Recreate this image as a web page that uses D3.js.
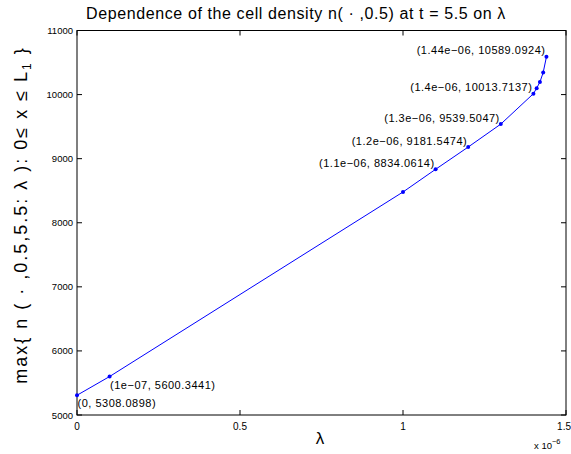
<!DOCTYPE html>
<html>
<head>
<meta charset="utf-8">
<script src="https://cdn.jsdelivr.net/npm/d3@7/dist/d3.min.js"></script>
<style>
  html, body { margin: 0; padding: 0; background: #fff; }
  svg text { font-family: "Liberation Sans", Arial, Helvetica, sans-serif; fill: #000; }
</style>
</head>
<body>
<svg id="chart" width="571" height="454"></svg>
<script>
// lambda values and the corresponding maximum cell density
const lambdaValues = [0, 1e-7, 1e-6, 1.1e-6, 1.2e-6, 1.3e-6, 1.4e-6, 1.41e-6, 1.42e-6, 1.43e-6, 1.44e-6];
const maxDensity = [5308.0898, 5600.3441, 8480, 8834.0614, 9181.5474, 9539.5047, 10013.7137, 10100, 10195, 10345, 10589.0924];
// indices of the points that carry a data tip
const tipIndices = [0, 1, 3, 4, 5, 6, 10];
// axis ticks
const xTicks = [0, 0.5e-6, 1e-6, 1.5e-6];
const xTickLabels = ["0", "0.5", "1", "1.5"];
const yTicks = [5000, 6000, 7000, 8000, 9000, 10000, 11000];

const svg = d3.select("#chart");
const plotLeft = 77, plotRight = 566, plotTop = 30.5, plotBottom = 415;

const x = d3.scaleLinear().domain([0, 1.5e-6]).range([plotLeft, plotRight]);
const y = d3.scaleLinear().domain([5000, 11000]).range([plotBottom, plotTop]);

const data = lambdaValues.map((l, i) => ({ l, v: maxDensity[i], i }));

// %g-style number formatting
function fmtG(v) {
  if (v === 0) return "0";
  const s = v.toExponential();
  const [m, e] = s.split("e");
  const sign = e[0] === "-" ? "\u2212" : "+";
  let digits = e.replace(/[+-]/, "");
  if (digits.length < 2) digits = "0" + digits;
  return m + "e" + sign + digits;
}

// axes box
svg.append("rect")
  .attr("x", plotLeft).attr("y", plotTop)
  .attr("width", plotRight - plotLeft).attr("height", plotBottom - plotTop)
  .attr("fill", "none").attr("stroke", "#000").attr("stroke-width", 1);

const tickLen = 5;

// x ticks (bottom + top, inward)
const gx = svg.append("g");
xTicks.forEach((t, k) => {
  const px = x(t);
  gx.append("line").attr("x1", px).attr("x2", px).attr("y1", plotBottom).attr("y2", plotBottom - tickLen).attr("stroke", "#000");
  gx.append("line").attr("x1", px).attr("x2", px).attr("y1", plotTop).attr("y2", plotTop + tickLen).attr("stroke", "#000");
  const last = k === xTicks.length - 1;
  gx.append("text").attr("x", last ? 571 : px).attr("y", plotBottom + 15)
    .attr("text-anchor", last ? "end" : "middle").style("font-size", "10px")
    .text(xTickLabels[k]);
});

// y ticks (left + right, inward)
const gy = svg.append("g");
yTicks.forEach(t => {
  const py = y(t);
  gy.append("line").attr("x1", plotLeft).attr("x2", plotLeft + tickLen).attr("y1", py).attr("y2", py).attr("stroke", "#000");
  gy.append("line").attr("x1", plotRight).attr("x2", plotRight - tickLen).attr("y1", py).attr("y2", py).attr("stroke", "#000");
  gy.append("text").attr("x", plotLeft - 4).attr("y", py + 3.5)
    .attr("text-anchor", "end").style("font-size", "9.5px")
    .text(t);
});

// exponent note under the x axis
const expo = svg.append("text").attr("x", 534).attr("y", 449).style("font-size", "9.5px");
expo.append("tspan").text("x 10");
expo.append("tspan").attr("dy", -5).style("font-size", "7.5px").text("\u22126");

// the curve
const line = d3.line().x(d => x(d.l)).y(d => y(d.v));
svg.append("path").datum(data)
  .attr("d", line)
  .attr("fill", "none").attr("stroke", "#0000ff").attr("stroke-width", 1);

svg.append("g").selectAll("circle").data(data).join("circle")
  .attr("cx", d => x(d.l)).attr("cy", d => y(d.v)).attr("r", 2)
  .attr("fill", "#0000ff");

// data tips
const tips = svg.append("g").style("font-size", "11px").style("letter-spacing", "0.5px");
tipIndices.forEach(i => {
  const d = data[i];
  const label = "(" + fmtG(d.l) + ", " + d.v.toFixed(4) + ")";
  const px = x(d.l), py = y(d.v);
  const below = d.l < 5e-7;
  tips.append("text")
    .attr("x", below ? px + 0.5 : px - 1)
    .attr("y", below ? py + 12 : py - 2.5)
    .attr("text-anchor", below ? "start" : "end")
    .text(label);
});

// title
svg.append("text").attr("x", 296).attr("y", 19)
  .attr("text-anchor", "middle").style("font-size", "16px")
  .style("letter-spacing", "0.6px")
  .text("Dependence of the cell density n( \u00b7 ,0.5) at t = 5.5 on \u03bb");

// axis labels
svg.append("text").attr("x", 320).attr("y", 444)
  .attr("text-anchor", "middle").style("font-size", "17px")
  .text("\u03bb");

const yl = svg.append("text")
  .attr("transform", "translate(27,215) rotate(-90)")
  .attr("text-anchor", "middle").style("font-size", "18px")
  .style("letter-spacing", "2px");
yl.append("tspan").text("max{ n ( \u00b7 ,0.5,5.5: \u03bb ): 0\u2264 x \u2264 L");
yl.append("tspan").attr("dy", 4).style("font-size", "12px").text("1");
yl.append("tspan").attr("dy", -4).text(" }");
</script>
</body>
</html>
